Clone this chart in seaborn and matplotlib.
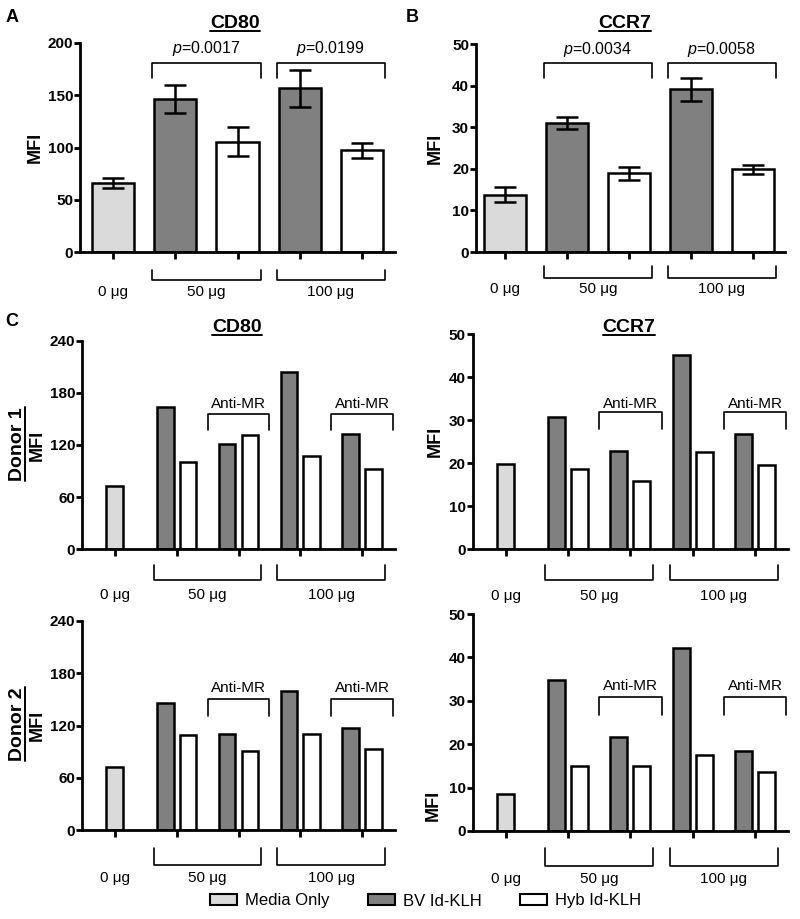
import numpy as np
import pandas as pd
import matplotlib
matplotlib.use('Agg')
import matplotlib.pyplot as plt
import seaborn as sns
from matplotlib.patches import Patch
from matplotlib.lines import Line2D
from matplotlib.transforms import blended_transform_factory

sns.set_style('ticks')
plt.rcParams['font.family'] = ['Liberation Sans', 'DejaVu Sans']
plt.rcParams['mathtext.fontset'] = 'custom'
plt.rcParams['mathtext.rm'] = 'Liberation Sans'
plt.rcParams['mathtext.it'] = 'Liberation Sans:italic'
plt.rcParams['mathtext.bf'] = 'Liberation Sans:bold'
for k in ['text.color', 'axes.labelcolor', 'xtick.color', 'ytick.color', 'axes.edgecolor']:
    plt.rcParams[k] = 'black'

# ---------------- data ----------------
# panels A / B : mean +- SEM
conds_ab = ['0', '50 BV', '50 Hyb', '100 BV', '100 Hyb']
agents_ab = ['Media', 'BV', 'Hyb', 'BV', 'Hyb']
cd80_mean = [66.0, 146.5, 105.5, 156.5, 97.5]
cd80_sem = [4.5, 13.5, 14.0, 17.4, 7.2]
ccr7_mean = [13.8, 31.0, 18.9, 39.1, 19.9]
ccr7_sem = [1.9, 1.45, 1.65, 2.8, 1.05]
pvals_cd80 = ['0.0017', '0.0199']
pvals_ccr7 = ['0.0034', '0.0058']

# panel C : single donors
groups_c = ['0', '50', '50 anti', '100', '100 anti']
d1_cd80_media = 73.2
d1_cd80_bv = [163.3, 121.2, 203.6, 133.0]
d1_cd80_hyb = [100.0, 131.9, 107.4, 92.4]
d1_ccr7_media = 19.8
d1_ccr7_bv = [30.7, 22.9, 45.1, 26.7]
d1_ccr7_hyb = [18.6, 15.9, 22.6, 19.5]
d2_cd80_media = 72.8
d2_cd80_bv = [145.5, 109.9, 159.7, 117.2]
d2_cd80_hyb = [108.8, 90.4, 110.3, 92.7]
d2_ccr7_media = 8.5
d2_ccr7_bv = [34.7, 21.7, 42.2, 18.4]
d2_ccr7_hyb = [15.0, 15.0, 17.4, 13.6]

dose_labels = ['0 \u03bcg', '50 \u03bcg', '100 \u03bcg']
legend_labels = ['Media Only', 'BV Id-KLH', 'Hyb Id-KLH']

light, dark, white = '#dadada', '#808080', '#ffffff'
W, H = 800, 919
fig = plt.figure(figsize=(W / 100, H / 100), dpi=100)


def px_axes(x0, y_top, x1, y_bot):
    return fig.add_axes([x0 / W, 1 - y_bot / H, (x1 - x0) / W, (y_bot - y_top) / H])


def style_axis(ax, yticks, ylim, xlim=(-0.53, 4.53)):
    sns.despine(ax=ax)
    for s in ['left', 'bottom']:
        ax.spines[s].set_linewidth(2.0)
    ax.set_ylim(*ylim)
    ax.set_xlim(*xlim)
    ax.set_yticks(yticks, labels=[str(t) for t in yticks], fontweight='bold', fontsize=11)
    ax.set_xticks(range(5), labels=[''] * 5)
    ax.tick_params(axis='y', length=4.5, width=2, pad=0.5)
    ax.tick_params(axis='x', length=5, width=2)
    ax.set_xlabel('')


def mfi_label(ax, xpix, ypos=0.5):
    ax.set_ylabel('MFI', fontweight='bold', fontsize=13, va='center')
    x0 = ax.get_position().x0 * W
    ax.yaxis.set_label_coords((xpix - x0) / (ax.get_position().width * W), ypos)


def dose_brackets(ax, top, bot, lab):
    tr = blended_transform_factory(ax.transData, ax.transAxes)
    ax.text(0, lab, dose_labels[0], transform=tr, ha='center', va='center', fontsize=11)
    for (a, b), s in zip([(1, 2), (3, 4)], dose_labels[1:]):
        ax.plot([a - 0.37, a - 0.37, b + 0.37, b + 0.37], [top, bot, bot, top],
                transform=tr, color='black', lw=1.2, clip_on=False)
        ax.text((a + b) / 2, lab, s, transform=tr, ha='center', va='center', fontsize=11)


def top_brackets(ax, pvals, bot, top, ty):
    for (a, b), p in zip([(1, 2), (3, 4)], pvals):
        ax.plot([a - 0.37, a - 0.37, b + 0.37, b + 0.37], [bot, top, top, bot],
                color='black', lw=1.2, clip_on=False)
        ax.text((a + b) / 2, ty, r'$p$=' + p, ha='center', va='center', fontsize=11.5)


def anti_brackets(ax, bot, top, ty):
    for g in [2, 4]:
        ax.plot([g - 0.5, g - 0.5, g + 0.5, g + 0.5], [bot, top, top, bot],
                color='black', lw=1.2, clip_on=False)
        ax.text(g, ty, 'Anti-MR', ha='center', va='center', fontsize=11)


def panel_ab(ax, mean, sem):
    df = pd.DataFrame({'cond': conds_ab, 'agent': agents_ab, 'mfi': mean})
    sns.barplot(data=df, x='cond', y='mfi', hue='agent', hue_order=['Media', 'BV', 'Hyb'],
                palette=[light, dark, white], dodge=False, width=0.68, saturation=1,
                edgecolor='black', linewidth=1.8, errorbar=None, legend=False, ax=ax)
    ax.errorbar(np.arange(len(mean)), mean, yerr=sem, fmt='none', ecolor='black',
                elinewidth=1.8, capsize=8, capthick=1.8, zorder=5)


def panel_c(ax, media, bv, hyb):
    mdf = pd.DataFrame({'group': [groups_c[0]], 'mfi': [media]})
    sns.barplot(data=mdf, x='group', y='mfi', order=groups_c, color=light, width=0.27,
                saturation=1, edgecolor='black', linewidth=1.8, errorbar=None, ax=ax)
    df = pd.DataFrame({'group': groups_c[1:] * 2,
                       'agent': ['BV'] * 4 + ['Hyb'] * 4,
                       'mfi': bv + hyb})
    sns.barplot(data=df, x='group', y='mfi', hue='agent', hue_order=['BV', 'Hyb'],
                order=groups_c, palette=[dark, white], dodge=True, width=0.74, gap=0.27,
                saturation=1, edgecolor='black', linewidth=1.8, errorbar=None,
                legend=False, ax=ax)


# ---- A
axA = px_axes(80, 43, 395, 252)
panel_ab(axA, cd80_mean, cd80_sem)
style_axis(axA, [0, 50, 100, 150, 200], (0, 200))
top_brackets(axA, pvals_cd80, 166.5, 181, 195)
dose_brackets(axA, -0.086, -0.134, -0.19)
mfi_label(axA, 35)

# ---- B
axB = px_axes(476, 44, 785, 252)
panel_ab(axB, ccr7_mean, ccr7_sem)
style_axis(axB, [0, 10, 20, 30, 40, 50], (0, 50), xlim=(-0.47, 4.52))
top_brackets(axB, pvals_ccr7, 41.8, 45.4, 48.7)
dose_brackets(axB, -0.065, -0.125, -0.18)
mfi_label(axB, 435)

# ---- C donor 1
axC1 = px_axes(82, 340.7, 395, 549.3)
panel_c(axC1, d1_cd80_media, d1_cd80_bv, d1_cd80_hyb)
style_axis(axC1, [0, 60, 120, 180, 240], (0, 240))
anti_brackets(axC1, 137, 155.7, 166.8)
dose_brackets(axC1, -0.077, -0.148, -0.22)
mfi_label(axC1, 37)

axC2 = px_axes(472.7, 334.3, 788, 549.3)
panel_c(axC2, d1_ccr7_media, d1_ccr7_bv, d1_ccr7_hyb)
style_axis(axC2, [0, 10, 20, 30, 40, 50], (0, 50))
anti_brackets(axC2, 28, 32, 33.9)
dose_brackets(axC2, -0.075, -0.145, -0.215)
mfi_label(axC2, 435)

# ---- C donor 2
axD1 = px_axes(82, 621, 395, 830)
panel_c(axD1, d2_cd80_media, d2_cd80_bv, d2_cd80_hyb)
style_axis(axD1, [0, 60, 120, 180, 240], (0, 240))
anti_brackets(axD1, 131, 150.9, 163.5)
dose_brackets(axD1, -0.086, -0.167, -0.23)
mfi_label(axD1, 37)

axD2 = px_axes(472.7, 614, 788, 831)
panel_c(axD2, d2_ccr7_media, d2_ccr7_bv, d2_ccr7_hyb)
style_axis(axD2, [0, 10, 20, 30, 40, 50], (0, 50))
anti_brackets(axD2, 26.7, 30.8, 33.3)
dose_brackets(axD2, -0.08, -0.16, -0.22)
mfi_label(axD2, 433, ypos=0.12)

# ---- panel letters, titles
for s, x, y in [('A', 12, 17), ('B', 412, 17), ('C', 12, 322)]:
    fig.text(x / W, 1 - y / H, s, fontweight='bold', fontsize=13, ha='center', va='center')

ul_texts = []
for s, x, y in [('CD80', 235, 24), ('CCR7', 625, 24), ('CD80', 237, 328), ('CCR7', 629, 328)]:
    ul_texts.append((fig.text(x / W, 1 - y / H, s, fontweight='bold', fontsize=14,
                              ha='center', va='center'), 0))
for s, y in [('Donor 1', 444), ('Donor 2', 724)]:
    ul_texts.append((fig.text(18 / W, 1 - y / H, s, fontweight='bold', fontsize=14,
                              ha='center', va='center', rotation=90), 90))

# legend
handles = [Patch(facecolor=c, edgecolor='black', linewidth=1.5) for c in [light, dark, white]]
fig.legend(handles, legend_labels, loc='center', bbox_to_anchor=(0.532, 1 - 901 / H),
           ncol=3, frameon=False, fontsize=12, handlelength=1.6, handleheight=0.6,
           handletextpad=0.5, columnspacing=2.3)

# underline titles
fig.canvas.draw()
r = fig.canvas.get_renderer()
for t, rot in ul_texts:
    bb = t.get_window_extent(r)
    if rot == 0:
        y = (bb.y0 + 2) / fig.bbox.height
        fig.add_artist(Line2D([bb.x0 / fig.bbox.width, bb.x1 / fig.bbox.width], [y, y],
                              transform=fig.transFigure, color='black', lw=1.4))
    else:
        x = (bb.x1 - 2) / fig.bbox.width
        fig.add_artist(Line2D([x, x], [bb.y0 / fig.bbox.height, bb.y1 / fig.bbox.height],
                              transform=fig.transFigure, color='black', lw=1.4))

fig.savefig('out.png', dpi=100, facecolor='white')
